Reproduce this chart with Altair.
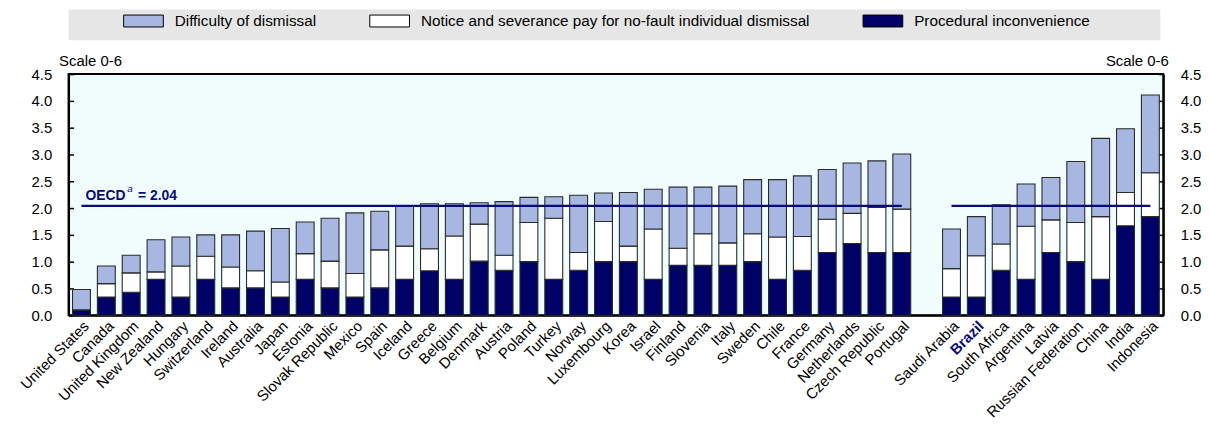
import altair as alt
import pandas as pd

# ---------------- data ----------------
countries = [
    "United States", "Canada", "United Kingdom", "New Zealand", "Hungary", "Switzerland",
    "Ireland", "Australia", "Japan", "Estonia", "Slovak Republic", "Mexico", "Spain",
    "Iceland", "Greece", "Belgium", "Denmark", "Austria", "Poland", "Turkey", "Norway",
    "Luxembourg", "Korea", "Israel", "Finland", "Slovenia", "Italy", "Sweden", "Chile",
    "France", "Germany", "Netherlands", "Czech Republic", "Portugal",
    "Saudi Arabia", "Brazil", "South Africa", "Argentina", "Latvia",
    "Russian Federation", "China", "India", "Indonesia",
]
procedural = [
    0.10, 0.34, 0.43, 0.67, 0.34, 0.67, 0.51, 0.51, 0.34, 0.67, 0.51, 0.34, 0.51,
    0.67, 0.83, 0.67, 1.01, 0.84, 1.00, 0.67, 0.84, 1.00, 1.00, 0.67, 0.93, 0.93,
    0.93, 1.00, 0.67, 0.84, 1.17, 1.34, 1.17, 1.17,
    0.34, 0.34, 0.84, 0.67, 1.17, 1.00, 0.67, 1.67, 1.84,
]
notice = [
    0.00, 0.25, 0.36, 0.14, 0.58, 0.43, 0.39, 0.32, 0.28, 0.48, 0.50, 0.44, 0.71,
    0.62, 0.41, 0.81, 0.69, 0.28, 0.73, 1.14, 0.33, 0.75, 0.29, 0.94, 0.32, 0.59,
    0.42, 0.52, 0.79, 0.63, 0.62, 0.56, 0.84, 0.81,
    0.53, 0.77, 0.49, 0.99, 0.61, 0.73, 1.17, 0.62, 0.82,
]
difficulty = [
    0.38, 0.33, 0.33, 0.60, 0.54, 0.40, 0.60, 0.74, 1.00, 0.59, 0.80, 1.13, 0.72,
    0.74, 0.84, 0.60, 0.40, 1.00, 0.47, 0.40, 1.07, 0.53, 1.00, 0.74, 1.14, 0.87,
    1.06, 1.01, 1.07, 1.13, 0.93, 0.94, 0.87, 1.03,
    0.74, 0.73, 0.73, 0.79, 0.79, 1.14, 1.46, 1.19, 1.45,
]
series_names = [
    "Difficulty of dismissal",
    "Notice and severance pay for no-fault individual dismissal",
    "Procedural inconvenience",
]
series_colors = ["#a7b7e2", "#ffffff", "#000066"]
n_oecd = 34                      # first 34 entries are OECD countries
gap_label = " "                  # blank slot between the two groups
oecd_value = 2.04
highlight = "Brazil"
y_ticks = [0, 0.5, 1.0, 1.5, 2.0, 2.5, 3.0, 3.5, 4.0, 4.5]

# ---------------- tables ----------------
domain = countries[:n_oecd] + [gap_label] + countries[n_oecd:]
rows = []
for i, c in enumerate(countries):
    for k, (name, vals) in enumerate(
        [(series_names[2], procedural), (series_names[1], notice), (series_names[0], difficulty)]
    ):
        rows.append({"country": c, "series": name, "value": vals[i], "k": k})
df = pd.DataFrame(rows)

lines_df = pd.DataFrame({
    "start": [countries[0], countries[n_oecd]],
    "end": [countries[n_oecd - 1], countries[-1]],
    "value": [oecd_value, oecd_value],
})
label_df = pd.DataFrame({"country": [countries[0]], "value": [oecd_value]})

FONT = "Liberation Sans, Arial, sans-serif"
NAVY = "#0a0a78"

x_scale = alt.Scale(domain=domain, paddingInner=0.28, paddingOuter=0.16)
x_axis = alt.Axis(
    title=None, labelAngle=-45, labelFontSize=15,
    labelColor={"expr": f"datum.value == '{highlight}' ? '{NAVY}' : '#000000'"},
    labelFontWeight={"expr": f"datum.value == '{highlight}' ? 'bold' : 'normal'"},
    ticks=False, domainColor="black", domainWidth=2, labelPadding=3, labelOverlap=False,
    labelFont=FONT,
)
y_scale = alt.Scale(domain=[0, 4.5], nice=False, zero=True)

left_axis = alt.Axis(
    values=y_ticks, format=".1f", orient="left", grid=False, labelFontSize=15,
    tickSize={"expr": "-5"}, tickColor="black", tickWidth=1.5, labelPadding=22,
    domainColor="black", domainWidth=2, title="Scale 0-6", titleAngle=0,
    titleAlign="left", titleBaseline="alphabetic", titleX=-10, titleY=-9,
    titleFontSize=15, titleFontWeight="normal", labelFont=FONT, titleFont=FONT,
)
right_axis = alt.Axis(
    values=y_ticks, format=".1f", orient="right", grid=False, labelFontSize=15,
    tickSize={"expr": "-5"}, tickColor="black", tickWidth=1.5, labelPadding=22,
    domainColor="black", domainWidth=2, title="Scale 0-6", titleAngle=0,
    titleAlign="right", titleBaseline="alphabetic", titleX=5, titleY=-9,
    titleFontSize=15, titleFontWeight="normal", labelFont=FONT, titleFont=FONT,
)

bars = alt.Chart(df).mark_bar(stroke="#2b2b2b", strokeWidth=1.1).encode(
    x=alt.X("country:N", scale=x_scale, axis=x_axis, sort=domain),
    y=alt.Y("value:Q", stack="zero", scale=y_scale, axis=left_axis),
    color=alt.Color(
        "series:N",
        scale=alt.Scale(domain=series_names, range=series_colors),
        legend=alt.Legend(
            title=None, orient="none", direction="horizontal", legendX=65, legendY=1,
            padding=0, symbolType="M-2,-0.6H2V0.6H-2Z", symbolSize=400,
            symbolStrokeColor="black", symbolStrokeWidth=1, symbolOpacity=1,
            labelFontSize=15.4, labelFont=FONT, labelOffset=21, columnPadding=51,
            labelLimit=500,
        ),
    ),
    order=alt.Order("k:Q", sort="ascending"),
)

rule = alt.Chart(lines_df).mark_rule(color=NAVY, strokeWidth=2.2).encode(
    x=alt.X("start:N", scale=x_scale, axis=x_axis, sort=domain),
    x2="end:N",
    y=alt.Y("value:Q", scale=y_scale, axis=right_axis),
)

txt_main = alt.Chart(label_df).mark_text(
    align="left", baseline="alphabetic", dx=4, dy=-6, fontSize=14, fontWeight="bold", color=NAVY, font=FONT
).encode(
    x=alt.X("country:N", scale=x_scale, axis=x_axis, sort=domain),
    y=alt.Y("value:Q", scale=y_scale, axis=None),
    text=alt.value("OECD"),
)
txt_sup = alt.Chart(label_df).mark_text(
    align="left", baseline="alphabetic", dx=46, dy=-14, fontSize=10, fontStyle="italic", color=NAVY, font=FONT
).encode(
    x=alt.X("country:N", scale=x_scale, axis=x_axis, sort=domain),
    y=alt.Y("value:Q", scale=y_scale, axis=None),
    text=alt.value("a"),
)
txt_val = alt.Chart(label_df).mark_text(
    align="left", baseline="alphabetic", dx=57, dy=-6, fontSize=14, fontWeight="bold", color=NAVY, font=FONT
).encode(
    x=alt.X("country:N", scale=x_scale, axis=x_axis, sort=domain),
    y=alt.Y("value:Q", scale=y_scale, axis=None),
    text=alt.value(f"=  {oecd_value:.2f}"),
)

main = alt.layer(bars, rule, txt_main, txt_sup, txt_val).resolve_scale(y="independent").properties(
    width=1103, height=243,
    view=alt.ViewBackground(fill="#f1fdfd", stroke="black", strokeWidth=2),
)

legend_band = alt.Chart(pd.DataFrame({"a": [0]})).mark_point(opacity=0).encode(
    x=alt.X("a:Q", axis=None), y=alt.Y("a:Q", axis=None)
).properties(width=1100, height=31, view=alt.ViewBackground(fill="#e6e6e6", stroke=None))

chart = alt.vconcat(legend_band, main, spacing=12).properties(
    padding={"left": 8, "top": 0, "right": 0, "bottom": 0}
).configure(font=FONT).configure_view(stroke=None)

chart.save("out.html", embed_options={"renderer": "svg", "actions": False})
